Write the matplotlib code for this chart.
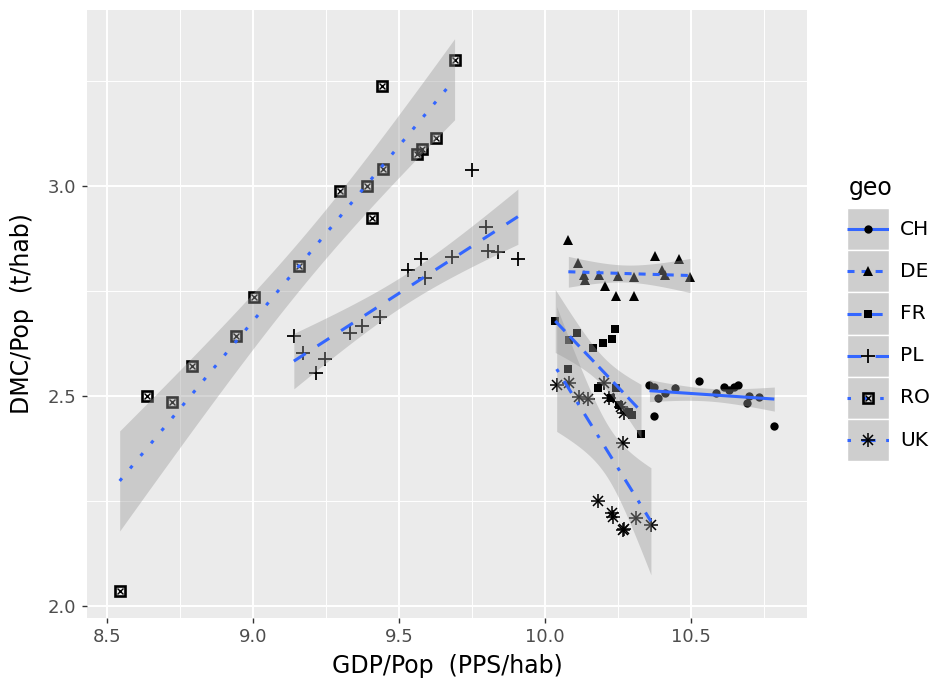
import matplotlib

matplotlib.use("Agg")

import matplotlib.pyplot as plt  # noqa: E402
import numpy as np  # noqa: E402
from matplotlib.patches import Rectangle  # noqa: E402

plt.rcParams.update({"font.family": ["DejaVu Sans"]})

# GDP/Pop (log PPS/hab) and DMC/Pop (log t/hab), one pair of arrays per country
ch_x = [10.359, 10.373, 10.387, 10.412, 10.373, 10.447, 10.530, 10.587,
        10.615, 10.633, 10.650, 10.661, 10.693, 10.699, 10.735, 10.787]
ch_y = [2.525, 2.520, 2.494, 2.506, 2.452, 2.518, 2.535, 2.506,
        2.520, 2.514, 2.520, 2.525, 2.482, 2.499, 2.498, 2.429]

de_x = [10.081, 10.115, 10.133, 10.138, 10.187, 10.208, 10.244, 10.250,
        10.307, 10.307, 10.378, 10.401, 10.412, 10.459, 10.498]
de_y = [2.871, 2.815, 2.787, 2.775, 2.787, 2.760, 2.737, 2.785,
        2.783, 2.737, 2.833, 2.799, 2.787, 2.825, 2.782]

fr_x = [10.036, 10.082, 10.110, 10.164, 10.199, 10.229, 10.242, 10.081,
        10.184, 10.227, 10.244, 10.256, 10.290, 10.300, 10.330]
fr_y = [2.679, 2.633, 2.649, 2.613, 2.625, 2.634, 2.659, 2.564,
        2.518, 2.494, 2.518, 2.478, 2.462, 2.455, 2.408]

pl_x = [9.140, 9.171, 9.217, 9.248, 9.331, 9.373, 9.434, 9.533,
        9.577, 9.590, 9.683, 9.751, 9.797, 9.805, 9.841, 9.908]
pl_y = [2.643, 2.602, 2.555, 2.587, 2.649, 2.667, 2.687, 2.799,
        2.825, 2.781, 2.830, 3.037, 2.902, 2.845, 2.841, 2.825]

ro_x = [8.543, 8.635, 8.722, 8.791, 8.941, 9.002, 9.157, 9.297,
        9.390, 9.408, 9.445, 9.442, 9.563, 9.580, 9.628, 9.691]
ro_y = [2.036, 2.500, 2.484, 2.571, 2.643, 2.736, 2.809, 2.987,
        3.000, 2.922, 3.039, 3.238, 3.075, 3.087, 3.113, 3.298]

uk_x = [10.041, 10.082, 10.119, 10.150, 10.204, 10.221, 10.262, 10.273,
        10.270, 10.184, 10.229, 10.233, 10.270, 10.273, 10.313, 10.364]
uk_y = [2.525, 2.531, 2.498, 2.492, 2.530, 2.494, 2.474, 2.458,
        2.388, 2.250, 2.220, 2.212, 2.180, 2.184, 2.210, 2.192]

geo = ["CH", "DE", "FR", "PL", "RO", "UK"]
xs = [ch_x, de_x, fr_x, pl_x, ro_x, uk_x]
ys = [ch_y, de_y, fr_y, pl_y, ro_y, uk_y]

x_ticks = [8.5, 9.0, 9.5, 10.0, 10.5]
y_ticks = [2.0, 2.5, 3.0]

# student t 0.975 quantiles for the lm confidence band
T975 = {12: 2.179, 13: 2.160, 14: 2.145, 15: 2.131, 16: 2.120}

BLUE = "#3366FF"
LW = 2.2
dashes = {
    "CH": None,
    "DE": (2.3, 2.3),
    "FR": (4.6, 2.3),
    "PL": (4.6, 4.6),
    "RO": (1.15, 4.2),
    "UK": (1.15, 3.45, 4.6, 3.45),
}
# ggplot shapes 16, 17, 15, 3, 7, 8 -> list of (marker, size, facecolor, mew)
shapes = {
    "CH": [("o", 6.0, "black", 0.0)],
    "DE": [("^", 6.6, "black", 0.0)],
    "FR": [("s", 5.8, "black", 0.0)],
    "PL": [("+", 10.0, "black", 1.3)],
    "RO": [("s", 6.6, "none", 1.9), ("x", 4.4, "black", 1.0)],
    "UK": [("+", 9.5, "black", 1.1), ("x", 7.0, "black", 1.1)],
}


def lm_band(x, y, n_grid=80):
    x = np.asarray(x, float)
    y = np.asarray(y, float)
    n = len(x)
    b1, b0 = np.polyfit(x, y, 1)
    resid = y - (b0 + b1 * x)
    s = np.sqrt(np.sum(resid ** 2) / (n - 2))
    sxx = np.sum((x - x.mean()) ** 2)
    gx = np.linspace(x.min(), x.max(), n_grid)
    fit = b0 + b1 * gx
    se = s * np.sqrt(1.0 / n + (gx - x.mean()) ** 2 / sxx)
    t = T975.get(n - 2, 2.13)
    return gx, fit, fit - t * se, fit + t * se


W, H = 936, 691
fig = plt.figure(figsize=(W / 100, H / 100), dpi=100)
ax = fig.add_axes([87 / W, 1 - 618 / H, 720 / W, 608 / H])
ax.set_facecolor("#EBEBEB")
for sp in ax.spines.values():
    sp.set_visible(False)

for g, x, y in zip(geo, xs, ys):
    for m, ms, fc, mew in shapes[g]:
        ax.plot(x, y, ls="none", marker=m, ms=ms, mfc=fc, mec="black",
                mew=mew, zorder=3)

for g, x, y in zip(geo, xs, ys):
    gx, fit, lo, hi = lm_band(x, y)
    ax.fill_between(gx, lo, hi, color="#999999", alpha=0.4, lw=0, zorder=4)
    line, = ax.plot(gx, fit, color=BLUE, lw=LW, zorder=5,
                    solid_capstyle="butt", dash_capstyle="butt")
    if dashes[g] is not None:
        line.set_dashes(dashes[g])

ax.set_xlim(8.431, 10.899)
ax.set_ylim(1.971, 3.418)
ax.set_xticks(x_ticks)
ax.set_yticks(y_ticks)
ax.set_xticks([8.75, 9.25, 9.75, 10.25, 10.75], minor=True)
ax.set_yticks([2.25, 2.75, 3.25], minor=True)
ax.grid(which="major", color="white", lw=1.4, zorder=0)
ax.grid(which="minor", color="white", lw=0.7, zorder=0)
ax.set_axisbelow(True)
ax.tick_params(which="major", length=3.5, width=1.0, color="#333333",
               labelcolor="#4D4D4D", labelsize=13, pad=4)
ax.tick_params(which="minor", length=0)
ax.set_xticklabels([f"{v:.1f}" for v in x_ticks])
ax.set_yticklabels([f"{v:.1f}" for v in y_ticks])
ax.set_xlabel("GDP/Pop  (PPS/hab)", fontsize=17)
ax.set_ylabel("DMC/Pop  (t/hab)", fontsize=17)
ax.xaxis.label.set_va("center")
ax.yaxis.label.set_va("center")
ax.xaxis.set_label_coords(0.5, (618 - 666) / 608)
ax.yaxis.set_label_coords((22 - 87) / 720, 0.5)

# legend drawn by hand so the keys get the ggplot look (ribbon fill + line + shape)
key_top, key_size = 208, 42.2
lax = fig.add_axes([847 / W, 1 - (key_top + 6 * key_size) / H,
                    42 / W, 6 * key_size / H])
lax.set_xlim(0, 1)
lax.set_ylim(len(geo), 0)
lax.axis("off")
for i, g in enumerate(geo):
    lax.add_patch(Rectangle((0, i), 1, 1, facecolor="#CECECE",
                            edgecolor="white", lw=1.0))
    kl, = lax.plot([0, 1], [i + 0.5, i + 0.5], color=BLUE, lw=LW,
                   solid_capstyle="butt", dash_capstyle="butt")
    if dashes[g] is not None:
        kl.set_dashes(dashes[g])
    for m, ms, fc, mew in shapes[g]:
        lax.plot([0.5], [i + 0.5], ls="none", marker=m, ms=ms, mfc=fc,
                 mec="black", mew=mew)
    lax.text(1.27, i + 0.5, g, fontsize=14.5, va="center", ha="left",
             color="black", clip_on=False)
fig.text(849 / W, 1 - 188 / H, "geo", fontsize=17, va="center", ha="left")

fig.savefig("out.png", dpi=100)
